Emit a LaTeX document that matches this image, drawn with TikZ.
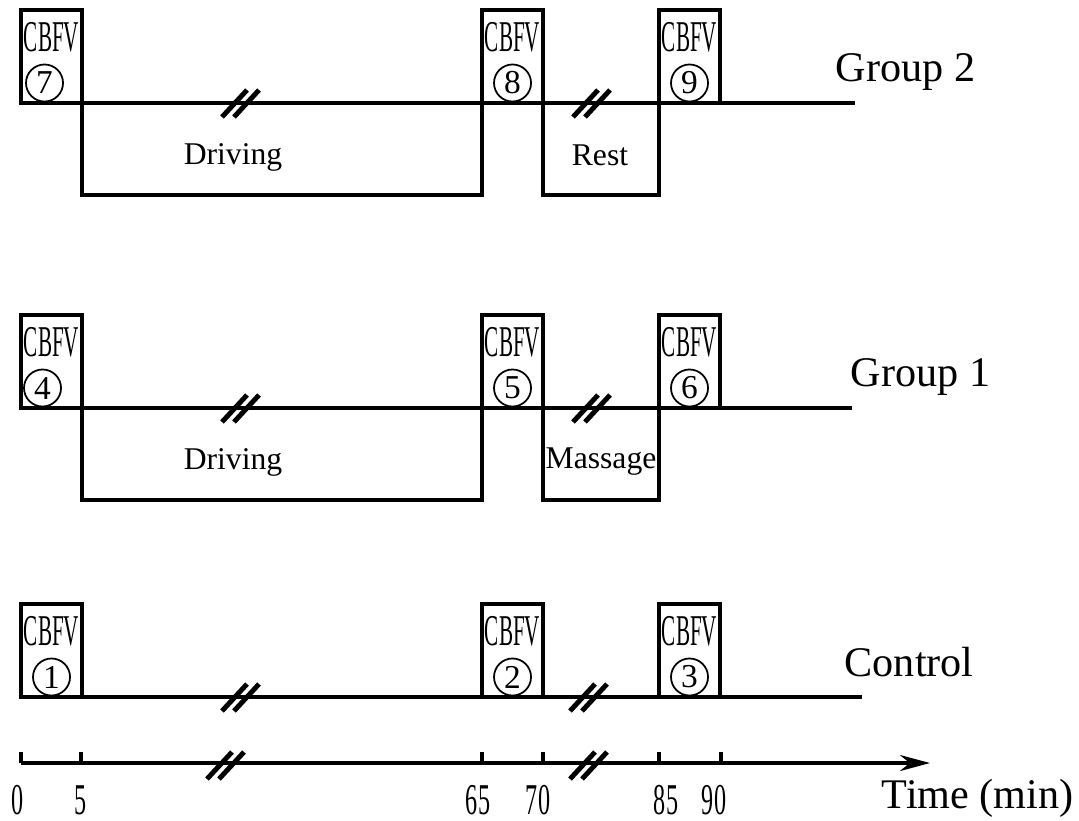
\documentclass[tikz,border=0pt]{standalone}
\usepackage{fontspec}
\setmainfont{Liberation Serif}
\usetikzlibrary{arrows.meta}
\tikzset{
  rail/.style={draw=black,line width=1pt},
  sample/.style={draw=black,line width=1pt,minimum width=6.1mm,minimum height=9.3mm,
    inner sep=0pt,outer sep=0pt,anchor=south west},
  tag/.style={font=\fontsize{12.5}{12.5}\selectfont,xscale=.48,inner sep=0pt},
  ticklab/.style={font=\fontsize{12.5}{12.5}\selectfont,xscale=.55,inner sep=0pt},
  circnum/.style={circle,draw=black,line width=.5pt,minimum size=3.7mm,
    inner sep=0pt,font=\fontsize{9.5}{9.5}\selectfont},
  phase/.style={font=\fontsize{9}{9}\selectfont,inner sep=0pt},
  grouplabel/.style={font=\fontsize{12}{12}\selectfont,anchor=west,inner sep=0pt},
  cut/.style={draw=black,line width=1.4pt},
}
\begin{document}
\begin{tikzpicture}[x=0.01cm,y=-0.01cm]
\useasboundingbox (0,0) rectangle (1079,820);
% measurement boxes
\foreach \n/\x/\y/\dx in {7/21/103/-0.7, 8/482/103/0, 9/659/103/0,
                          4/21/408/-0.9, 5/482/408/0, 6/659/408/0,
                          1/21/697/0, 2/482/697/0, 3/659/697/0} {
  \node[sample] (b\n) at (\x,\y) {};
  \node[tag] at ([yshift=-2.7mm]b\n.north) {CBFV};
  \node[circnum] at ([xshift=\dx mm,yshift=2mm]b\n.south) {\n};
}
% group 2
\coordinate (g2end) at (855,103);
\draw[rail] (b7.south west) -- (g2end);
\draw[rail] (b7.south east) -- ++(0,92) -| (b8.south west);
\draw[rail] (b8.south east) -- ++(0,92) -| (b9.south west);
\node[phase] (drive2) at (233,157) {Driving};
\node[phase] (rest) at (600,155) {Rest};
\node[grouplabel] (g2) at (835,72) {Group 2};
% group 1
\coordinate (g1end) at (852,408);
\draw[rail] (b4.south west) -- (g1end);
\draw[rail] (b4.south east) -- ++(0,92) -| (b5.south west);
\draw[rail] (b5.south east) -- ++(0,92) -| (b6.south west);
\node[phase] (drive1) at (233,462) {Driving};
\node[phase] (massage) at (601,462) {Massage};
\node[grouplabel] (g1) at (850,377) {Group 1};
% control
\coordinate (ctend) at (862,697);
\draw[rail] (b1.south west) -- (ctend);
\node[grouplabel] (ctrl) at (844,662) {Control};
% time axis
\coordinate (t0) at (21,763);
\coordinate (tend) at (930,763);
\draw[rail,-{Stealth[length=3mm,width=1.6mm]}] (t0) -- (tend);
\foreach \x/\lab/\lx in {21/0/18, 81/5/81, 482/65/478, 543/70/538, 659/85/666, 721/90/714} {
  \draw[rail] (\x,763) -- ++(0,-11);
  \node[ticklab] at (\lx,800) {\lab};
}
\node[grouplabel] (time) at (881,798) {Time (min)};
% break marks
\foreach \x/\y in {235/103, 586/103, 235/408, 586/408, 235/697, 583/697, 220/765, 583/765}
  \draw[cut] (\x-13,\y+14) -- ++(25,-27) (\x-1,\y+14) -- ++(25,-27);
\end{tikzpicture}
\end{document}
